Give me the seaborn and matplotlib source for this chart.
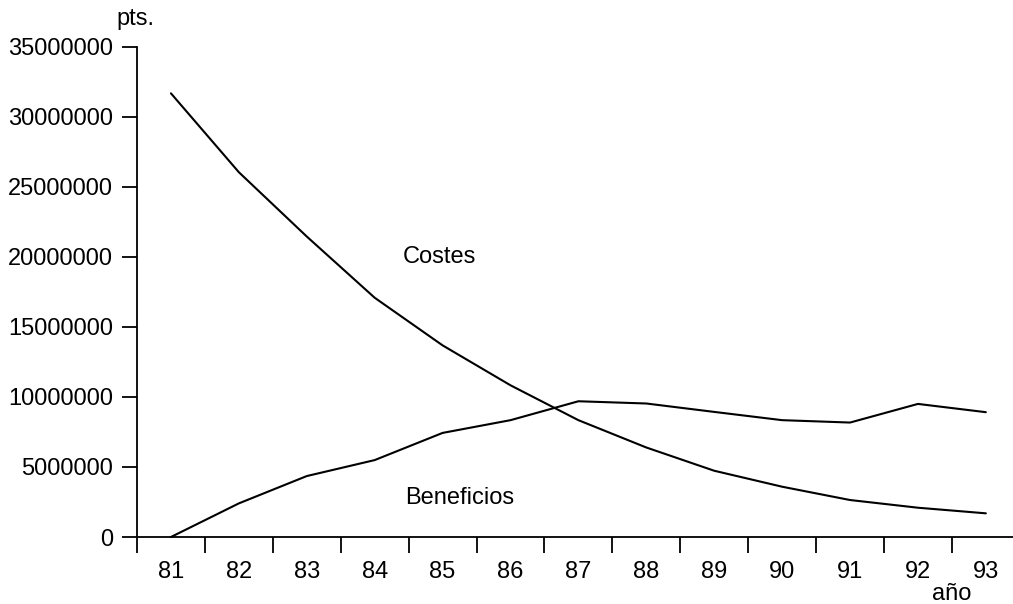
import matplotlib
matplotlib.use("Agg")
import matplotlib.pyplot as plt
import seaborn as sns
import pandas as pd
import numpy as np
from matplotlib.ticker import FuncFormatter, FixedLocator

years = ['81', '82', '83', '84', '85', '86', '87', '88', '89', '90', '91', '92', '93']
costes = [31670000, 26040000, 21450000, 17080000, 13680000, 10830000, 8340000,
          6390000, 4730000, 3590000, 2640000, 2090000, 1690000]
beneficios = [0, 2400000, 4350000, 5490000, 7430000, 8340000, 9690000,
              9530000, 8930000, 8340000, 8170000, 9500000, 8910000]
y_ticks = [0, 5000000, 10000000, 15000000, 20000000, 25000000, 30000000, 35000000]

sns.set_style("ticks")
plt.rcParams['font.family'] = ['Liberation Sans', 'DejaVu Sans']
plt.rcParams['font.size'] = 17

df = pd.DataFrame({
    'año': years * 2,
    'valor': costes + beneficios,
    'serie': ['Costes'] * len(years) + ['Beneficios'] * len(years),
})

fig = plt.figure(figsize=(10.13, 6.04), dpi=100)
W, H = 1013, 604
ax = fig.add_axes([137 / W, 1 - 537 / H, 1 - 137 / W, (537 - 46.7) / H])

sns.lineplot(data=df, x='año', y='valor', hue='serie',
             palette={'Costes': 'black', 'Beneficios': 'black'},
             linewidth=1.5, legend=False, ax=ax, clip_on=False)

ax.set_xlim(-0.5, 12.4)
ax.set_ylim(0, 35000000)
ax.set_yticks(y_ticks)
ax.yaxis.set_major_formatter(FuncFormatter(lambda v, p: f"{int(round(v))}"))

# boundary ticks (major, no labels) and centered labels (minor, no tick mark)
ax.xaxis.set_major_locator(FixedLocator(np.arange(-0.5, 12, 1.0)))
ax.xaxis.set_minor_locator(FixedLocator(np.arange(len(years))))
ax.set_xticklabels([], minor=False)
ax.set_xticklabels(years, minor=True)
ax.tick_params(axis='x', which='major', direction='out', length=11.5, width=1.3, color='black')
ax.tick_params(axis='x', which='minor', length=0, pad=17.5, labelsize=17, labelcolor='black')
ax.tick_params(axis='y', which='major', direction='out', length=10.8, width=1.3, pad=6.5,
               labelsize=17, color='black', labelcolor='black')

ax.set_xlabel('')
ax.set_ylabel('')
sns.despine(ax=ax)
for s in ['left', 'bottom']:
    ax.spines[s].set_linewidth(1.3)
    ax.spines[s].set_color('black')

ax.text(3.42, 19540000, 'Costes', ha='left', va='baseline', fontsize=17, color='black')
ax.text(3.45, 2330000, 'Beneficios', ha='left', va='baseline', fontsize=17, color='black')

fig.text(116 / W, 1 - 25 / H, 'pts.', ha='left', va='baseline', fontsize=17, color='black')
fig.text(952 / W, 1 - 600 / H, 'año', ha='center', va='baseline', fontsize=17, color='black')

fig.savefig('out.png', dpi=100, facecolor='white')
